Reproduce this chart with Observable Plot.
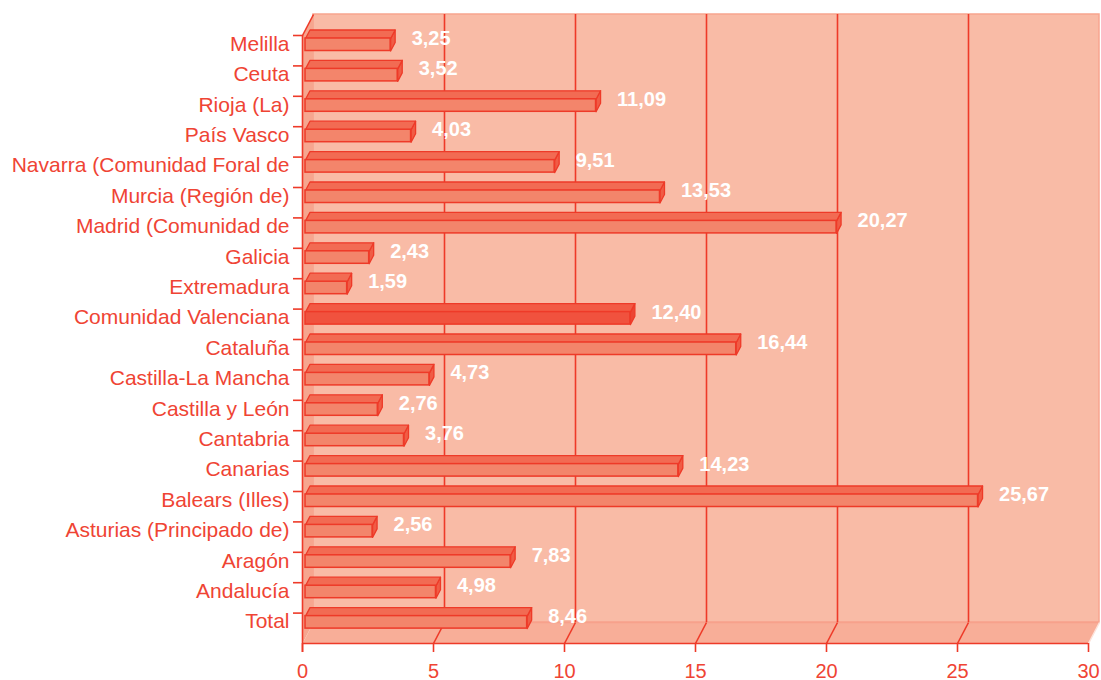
<!DOCTYPE html>
<html>
<head>
<meta charset="utf-8">
<script src="https://cdn.jsdelivr.net/npm/d3@7"></script>
<script src="https://cdn.jsdelivr.net/npm/@observablehq/plot@0.6"></script>
<style>
  html, body { margin: 0; padding: 0; background: #ffffff; }
  #chart svg { display: block; overflow: visible; }
</style>
</head>
<body>
<div id="chart"></div>
<script>
// ---- data (bottom to top) ----
const categories = ["Total","Andalucía","Aragón","Asturias (Principado de)","Balears (Illes)","Canarias","Cantabria","Castilla y León","Castilla-La Mancha","Cataluña","Comunidad Valenciana","Extremadura","Galicia","Madrid (Comunidad de","Murcia (Región de)","Navarra (Comunidad Foral de","País Vasco","Rioja (La)","Ceuta","Melilla"];
const values = [8.46,4.98,7.83,2.56,25.67,14.23,3.76,2.76,4.73,16.44,12.40,1.59,2.43,20.27,13.53,9.51,4.03,11.09,3.52,3.25];
const xTicks = [0,5,10,15,20,25,30];
const highlight = "Comunidad Valenciana";

// ---- layout / style ----
const W = 1101, H = 680;
const mL = 302, mR = 13, mT = 35, mB = 37;
const xMax = 30, nBands = categories.length;
const kx = (W - mL - mR) / xMax;      // px per x unit
const ky = (H - mT - mB) / nBands;    // px per band
const RED = "#ee3a28", TXT = "#ef4434";
const WALL = "#f9bba6", SIDE = "#f6a68f", FLOOR = "#f8ae98";
const FONT = "'Liberation Sans', Arial, Helvetica, sans-serif";
// depth offsets in px
const WDX = 11, WDY = 21;      // wall depth
const BX0 = 3;                 // bar front-face shift
const BDX = 4.5, BDY = 8.5;    // bar depth
const fTop = 3, fBot = 15.5;   // front face from band top (px)

const px = p => p / kx, py = p => p / ky;

const rows = categories.map((c, i) => ({category: c, value: values[i], idx: i, hi: c === highlight}));
const cFront = d => d.hi ? "#f0523e" : "#f3856b";
const cTop = d => d.hi ? "#f25a44" : "#f26b53";
const cRight = d => d.hi ? "#ec4533" : "#f05c45";

const topPts = [], rightPts = [];
rows.forEach(d => {
  const t = d.idx + 1;
  const a = {x: px(BX0), y: t - py(fTop)};
  const b = {x: d.value + px(BX0), y: t - py(fTop)};
  const c = {x: d.value + px(BX0 + BDX), y: t - py(fTop) + py(BDY)};
  const e = {x: px(BX0 + BDX), y: t - py(fTop) + py(BDY)};
  const f = {x: d.value + px(BX0 + BDX), y: t - py(fBot) + py(BDY)};
  const g = {x: d.value + px(BX0), y: t - py(fBot)};
  [a, b, c, e].forEach(p => topPts.push({...p, id: d.idx, col: cTop(d)}));
  [b, c, f, g].forEach(p => rightPts.push({...p, id: d.idx, col: cRight(d)}));
});

const sideWall = [{x: 0, y: 0}, {x: 0, y: nBands}, {x: px(WDX), y: nBands + py(WDY)}, {x: px(WDX), y: py(WDY)}];
const floor = [{x: 0, y: 0}, {x: xMax, y: 0}, {x: xMax + px(WDX), y: py(WDY)}, {x: px(WDX), y: py(WDY)}];
const fmt = v => v.toFixed(2).replace(".", ",");

const chart = Plot.plot({
  width: W, height: H,
  marginLeft: mL, marginRight: mR, marginTop: mT, marginBottom: mB,
  x: {domain: [0, xMax], axis: null},
  y: {domain: [0, nBands], axis: null},
  color: {type: "identity"},
  style: {fontFamily: FONT, background: "transparent", overflow: "visible"},
  marks: [
    // back wall
    Plot.rect([0], {x1: () => 0, x2: () => xMax, y1: () => 0, y2: () => nBands, dx: WDX, dy: -WDY, fill: WALL, stroke: "#f8a58f", strokeWidth: 1.5}),
    // side wall & floor
    Plot.line(sideWall, {x: "x", y: "y", curve: "linear-closed", fill: SIDE, stroke: "none"}),
    Plot.line(floor, {x: "x", y: "y", curve: "linear-closed", fill: FLOOR, stroke: "none"}),
    // back floor edge
    Plot.ruleY([0], {x1: () => 0, x2: () => xMax, dx: WDX, dy: -WDY, stroke: "#f7a18b", strokeWidth: 1.5}),
    // right floor edge
    Plot.link([xMax], {x1: d => d, y1: () => 0, x2: d => d + px(WDX), y2: () => py(WDY), stroke: "#fde3da", strokeWidth: 1.5}),
    // grid on back wall
    Plot.ruleX(xTicks.slice(1, -1), {x: d => d, y1: () => 0, y2: () => nBands, dx: WDX, dy: -WDY, stroke: RED, strokeWidth: 1.6}),
    // floor diagonals
    Plot.link(xTicks.slice(1, -1), {x1: d => d, y1: () => 0, x2: d => d + px(WDX), y2: () => py(WDY), stroke: RED, strokeWidth: 1.6}),
    // bars: right faces, top faces, front faces
    Plot.line(rightPts, {x: "x", y: "y", z: "id", fill: "col", curve: "linear-closed", stroke: RED, strokeWidth: 1.3, strokeLinejoin: "round"}),
    Plot.line(topPts, {x: "x", y: "y", z: "id", fill: "col", curve: "linear-closed", stroke: RED, strokeWidth: 1.3, strokeLinejoin: "round"}),
    Plot.rect(rows, {x1: () => 0, x2: "value", y1: "idx", y2: d => d.idx + 1, dx: BX0, insetTop: fTop, insetBottom: ky - fBot, fill: cFront, stroke: RED, strokeWidth: 1.5}),
    // axes
    Plot.ruleX([0], {y1: () => -py(9), y2: () => nBands, stroke: RED, strokeWidth: 1.6}),
    Plot.link([0], {x1: () => 0, y1: () => nBands, x2: () => px(WDX), y2: () => nBands + py(WDY), stroke: RED, strokeWidth: 1.6}),
    Plot.ruleY([0], {x1: () => 0, x2: () => xMax, stroke: RED, strokeWidth: 1.6}),
    Plot.ruleX(xTicks, {x: d => d, y1: () => -py(9), y2: () => 0, stroke: RED, strokeWidth: 1.6}),
    Plot.ruleY(rows, {y: d => d.idx + 1, x1: () => -px(9), x2: () => 0, stroke: RED, strokeWidth: 1.6}),
    // tick labels
    Plot.text(xTicks, {x: d => d, y: () => 0, dy: 20, lineAnchor: "top", text: d => String(d), fill: TXT, fontSize: 20, fontFamily: FONT}),
    Plot.text(rows, {x: () => 0, y: d => d.idx + 1 - py(8.5), dx: -13, textAnchor: "end", text: "category", fill: TXT, fontSize: 21, fontFamily: FONT}),
    // value labels
    Plot.text(rows, {x: "value", y: d => d.idx + 1 - py(3), dx: 24, textAnchor: "start", text: d => fmt(d.value), fill: "#ffffff", fontWeight: "bold", fontSize: 20, fontFamily: FONT})
  ]
});
document.getElementById("chart").appendChild(chart);
</script>
</body>
</html>
